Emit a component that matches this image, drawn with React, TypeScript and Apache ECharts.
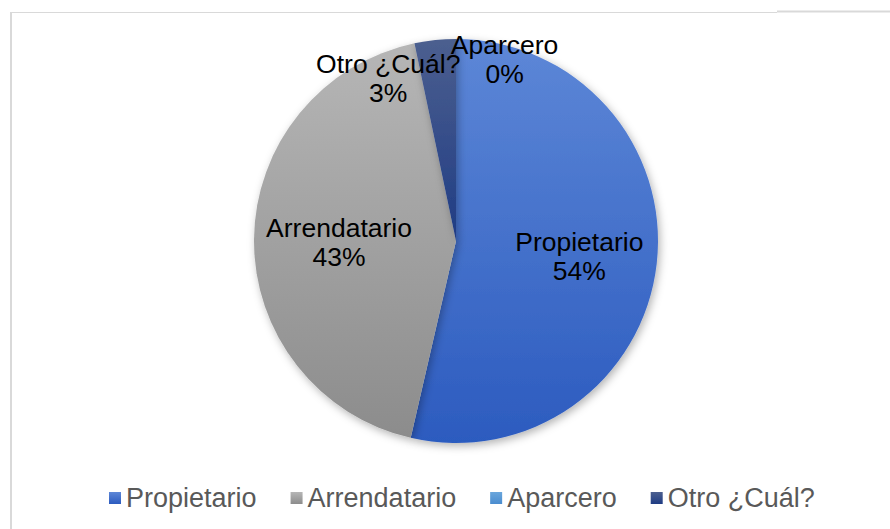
import React, { useEffect, useRef } from "react";
import * as echarts from "echarts";

const categories = ["Propietario", "Arrendatario", "Aparcero", "Otro ¿Cuál?"];
const values = [53.6, 43.1, 0, 3.3];
const colorTops = ["#5d87d7", "#b6b6b6", "#6aa6dc", "#4c5f8f"];
const colorBottoms = ["#2c5bbf", "#8c8c8c", "#4a8ccf", "#1f3c84"];
const labelShifts = [
  [20, 4],
  [-13, 2],
  [70, -80],
  [-57, -59],
];

export default function App() {
  const ref = useRef<HTMLDivElement>(null);
  useEffect(() => {
    if (!ref.current) return;
    const chart = echarts.init(ref.current, null, { renderer: "svg" });
    const data = categories.map((name, i) => ({
      name,
      value: values[i],
      itemStyle: {
        color: new echarts.graphic.LinearGradient(0, 0, 0, 1, [
          { offset: 0, color: colorTops[i] },
          { offset: 1, color: colorBottoms[i] },
        ]),
      },
    }));
    chart.setOption({
      animation: false,
      backgroundColor: "#ffffff",
      graphic: [
        {
          type: "line",
          shape: { x1: 11, y1: 12, x2: 11, y2: 529 },
          style: { stroke: "#d9d9d9", lineWidth: 2 },
        },
        {
          type: "line",
          shape: { x1: 10, y1: 12.5, x2: 777, y2: 12.5 },
          style: { stroke: "#d9d9d9", lineWidth: 1 },
        },
        {
          type: "line",
          shape: { x1: 777, y1: 11.5, x2: 890, y2: 11.5 },
          style: { stroke: "#d9d9d9", lineWidth: 2 },
        },
      ],
      legend: {
        left: 104,
        top: 478,
        itemWidth: 12,
        itemHeight: 12,
        itemGap: 34,
        icon: "rect",
        data: categories,
        textStyle: {
          fontFamily: "Liberation Sans, Arial, sans-serif",
          fontSize: 27,
          color: "#595959",
          lineHeight: 30,
        },
      },
      series: [
        {
          type: "pie",
          center: [456, 241],
          radius: [0, 202],
          startAngle: 90,
          clockwise: true,
          avoidLabelOverlap: false,
          data,
          itemStyle: {
            shadowBlur: 8,
            shadowOffsetX: 2,
            shadowOffsetY: 3,
            shadowColor: "rgba(0,0,0,0.3)",
          },
          label: {
            show: true,
            position: "inside",
            fontFamily: "Liberation Sans, Arial, sans-serif",
            fontSize: 26.5,
            lineHeight: 29,
            color: "#000000",
            formatter: (p: any) => `${p.name}\n${Math.round(p.percent)}%`,
          },
          labelLine: { show: false },
          labelLayout: (params: any) => {
            const s = labelShifts[params.dataIndex];
            return { dx: s[0], dy: s[1] };
          },
          emphasis: { disabled: true },
        },
      ],
    });
    return () => chart.dispose();
  }, []);
  return (
    <div
      ref={ref}
      style={{ position: "fixed", left: 0, top: 0, width: 890, height: 529 }}
    />
  );
}
